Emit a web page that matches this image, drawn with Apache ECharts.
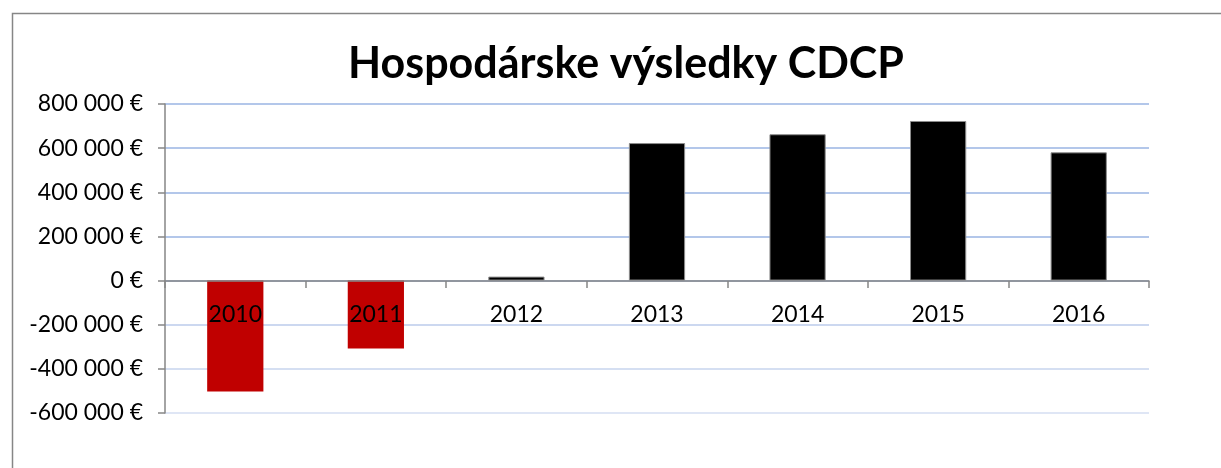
<!DOCTYPE html>
<html lang="sk">

<head>
    <meta charset="UTF-8">
    <title>Hospodárske výsledky CDCP</title>
    <style>
        html, body {
            margin: 0;
            padding: 0;
            background: #fff;
        }
        #chart {
            width: 1221px;
            height: 468px;
        }
    </style>
</head>

<body>
    <div id="chart"></div>

    <script src="https://cdn.jsdelivr.net/npm/echarts@6/dist/echarts.min.js"></script>
    <script>
        var years = ['2010', '2011', '2012', '2013', '2014', '2015', '2016'];
        var results = [-503000, -308000, 18000, 623000, 663000, 723000, 581000];
        var yTicks = [-600000, -400000, -200000, 0, 200000, 400000, 600000, 800000];

        (function initChart() {
            var myChart = echarts.init(document.getElementById('chart'));
            var axisGray = '#868686';
            var font = 'Lato, "Open Sans", sans-serif';

            function euro(v) {
                var s = String(Math.abs(v)).replace(/\B(?=(\d{3})+(?!\d))/g, ' ');
                return (v < 0 ? '-' : '') + s + ' €';
            }

            var options = {
                animation: false,
                graphic: [{
                    type: 'rect',
                    left: 10,
                    top: 11,
                    shape: { width: 1260, height: 520 },
                    style: { fill: 'none', stroke: axisGray, lineWidth: 1.5 },
                    silent: true
                }],
                title: {
                    text: 'Hospodárske výsledky CDCP',
                    left: 621,
                    textAlign: 'center',
                    top: 38,
                    textStyle: {
                        fontFamily: font,
                        fontSize: 43,
                        fontWeight: 'bold',
                        color: '#000'
                    }
                },
                grid: {
                    left: 165,
                    right: 72,
                    top: 104,
                    bottom: 55
                },
                xAxis: {
                    type: 'category',
                    data: years,
                    // axis sits on the zero line: 3 steps of 44px above the bottom
                    offset: -132,
                    axisLine: {
                        onZero: false,
                        lineStyle: { color: axisGray, width: 1.5 }
                    },
                    axisTick: {
                        show: true,
                        length: 7,
                        lineStyle: { color: axisGray, width: 1.5 }
                    },
                    axisLabel: {
                        margin: 22,
                        fontFamily: font,
                        fontSize: 23,
                        color: '#000'
                    },
                    z: 10
                },
                yAxis: {
                    type: 'value',
                    min: yTicks[0],
                    max: yTicks[yTicks.length - 1],
                    interval: 200000,
                    axisLine: {
                        show: true,
                        lineStyle: { color: axisGray, width: 1.5 }
                    },
                    axisTick: {
                        show: true,
                        length: 7,
                        lineStyle: { color: axisGray, width: 1.5 }
                    },
                    axisLabel: {
                        margin: 22,
                        fontFamily: font,
                        fontSize: 23,
                        color: '#000',
                        formatter: euro
                    },
                    splitLine: {
                        // lines below zero are paler in the original
                        lineStyle: {
                            color: ['#dfe6f5', '#d5dff2', '#ccd8f0', '#b3c7ea',
                                '#b3c7ea', '#b3c7ea', '#b3c7ea', '#b3c7ea'],
                            width: 2
                        }
                    }
                },
                series: [{
                    type: 'bar',
                    barCategoryGap: '60%',
                    data: results.map(function (v) {
                        return {
                            value: v,
                            itemStyle: v < 0
                                ? { color: '#c00000' }
                                : { color: '#000', borderColor: '#8c8c8c', borderWidth: 1 }
                        };
                    })
                }]
            };

            myChart.setOption(options, true);
        })();
    </script>
</body>

</html>
